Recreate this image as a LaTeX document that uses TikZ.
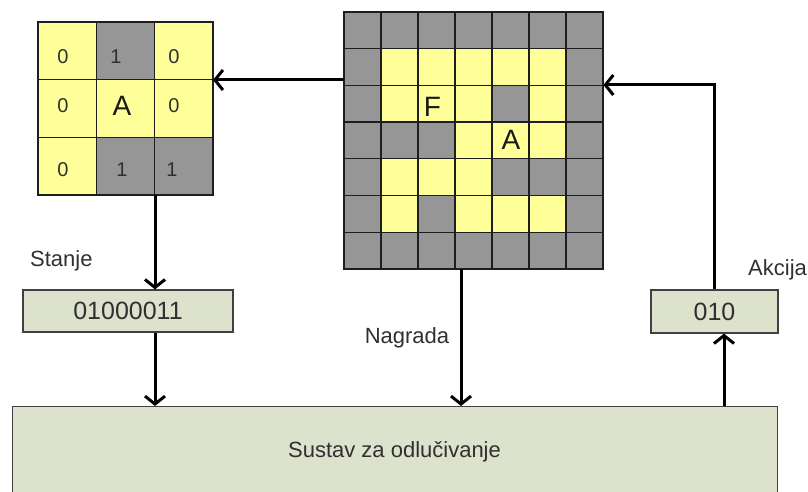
\documentclass[tikz,border=0pt]{standalone}
\usepackage{fontspec}
\setmainfont{Liberation Sans}
\usetikzlibrary{arrows.meta}
\definecolor{cY}{HTML}{FFFF99}
\definecolor{cG}{HTML}{969696}
\definecolor{boxfill}{HTML}{DCE2CC}
\definecolor{ink}{HTML}{303030}
\definecolor{gridline}{HTML}{1E1E1E}

\begin{document}
\begin{tikzpicture}[x=1pt,y=-1pt,
  cellbox/.style={draw=gridline, line width=1.3pt},
  gridtext/.style={text=ink, font=\fontsize{20}{20}\selectfont, inner sep=0pt},
  bigletter/.style={text=black!90, font=\fontsize{28}{28}\selectfont, inner sep=0pt},
  databox/.style={draw=black!75, line width=1.2pt, fill=boxfill, inner sep=0pt,
                  text=ink, font=\fontsize{25}{25}\selectfont},
  tag/.style={text=ink, font=\fontsize{22}{22}\selectfont, inner sep=0pt},
  frame/.style={inner sep=0pt, anchor=north west},
  arr/.style={line width=3pt, -{Straight Barb[length=8pt,width=20pt]}}
]
\useasboundingbox (0,0) rectangle (808,492);
\clip (0,0) rectangle (808,492);

% ---- local view: 3x3 neighbourhood ----
\node[frame, minimum width=175pt, minimum height=173pt] (small) at (38,22) {};
\foreach \row [count=\r from 0] in {{cY,cG,cY},{cY,cY,cY},{cY,cG,cG}}
  \foreach \k [count=\c from 0] in \row
    \filldraw[cellbox, fill=\k] (38+58.33*\c, 22+57.67*\r) rectangle ++(58.33,57.67);

\node[gridtext] (s11) at (63,57) {0};
\node[gridtext] (s12) at (116,57) {1};
\node[gridtext] (s13) at (174,57) {0};
\node[gridtext] (s21) at (63,106) {0};
\node[bigletter] (s22) at (122,106) {A};
\node[gridtext] (s23) at (174,106) {0};
\node[gridtext] (s31) at (63,170) {0};
\node[gridtext] (s32) at (122,170) {1};
\node[gridtext] (s33) at (172,170) {1};

% ---- world: 7x7 grid ----
\node[frame, minimum width=259pt, minimum height=257pt] (world) at (344,12) {};
\foreach \row [count=\r from 0] in {
    {cG,cG,cG,cG,cG,cG,cG},
    {cG,cY,cY,cY,cY,cY,cG},
    {cG,cY,cY,cY,cG,cY,cG},
    {cG,cG,cG,cY,cY,cY,cG},
    {cG,cY,cY,cY,cG,cG,cG},
    {cG,cY,cG,cY,cY,cY,cG},
    {cG,cG,cG,cG,cG,cG,cG}}
  \foreach \k [count=\c from 0] in \row
    \filldraw[cellbox, fill=\k] (344+37*\c, 12+36.71*\r) rectangle ++(37,36.71);

\node[bigletter] (food) at (432.5,106.5) {F};
\node[bigletter] (agentpos) at (511,140) {A};

% ---- boxes ----
\node[databox, minimum width=210pt, minimum height=42pt] (state) at (128,311) {01000011};
\node[databox, minimum width=127pt, minimum height=43pt] (action) at (714.5,311.5) {010};
\node[databox, frame, minimum width=765pt, minimum height=110pt] (agent) at (12,406) {};
\node[tag, anchor=base] (agenttext) at (394.5,457.5) {Sustav za odlučivanje};

% ---- labels ----
\node[tag, anchor=base west] (stanje) at (30,266) {Stanje};
\node[tag, anchor=base] (nagrada) at (407,343) {Nagrada};
\node[tag, anchor=base west] (akcija) at (748,275) {Akcija};

% ---- connectors ----
\coordinate (smallport) at (213,80);
\coordinate (smalldrop) at (155,195);
\coordinate (reward) at (461,269);
\coordinate (actin) at (724,406);
\coordinate (actout) at (714,85);

\draw[arr] (world.west |- smallport) -- (smallport);
\draw[arr] (smalldrop) -- (smalldrop |- state.north);
\draw[arr] (state.south -| smalldrop) -- (agent.north -| smalldrop);
\draw[arr] (reward) -- (reward |- agent.north);
\draw[arr] (actin) -- (actin |- action.south);
\draw[arr] (action.north -| actout) |- (world.east |- actout);
\end{tikzpicture}
\end{document}
